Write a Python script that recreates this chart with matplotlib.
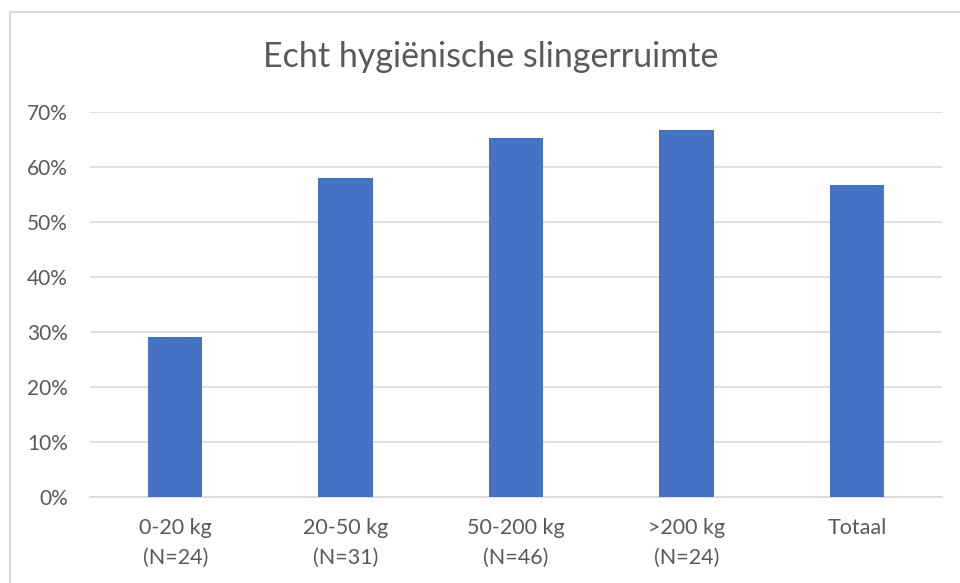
import matplotlib
matplotlib.use("Agg")
import matplotlib.pyplot as plt
from matplotlib.lines import Line2D

categories = ["0-20 kg\n(N=24)", "20-50 kg\n(N=31)", "50-200 kg\n(N=46)", ">200 kg\n(N=24)", "Totaal"]
values = [0.2917, 0.5806, 0.6522, 0.6667, 0.568]
yticks = [0, 0.1, 0.2, 0.3, 0.4, 0.5, 0.6, 0.7]
ytick_labels = ["0%", "10%", "20%", "30%", "40%", "50%", "60%", "70%"]
title = "Echt hygiënische slingerruimte"

plt.rcParams['font.family'] = ['Lato', 'DejaVu Sans']
text_color = "#595959"
grid_color = "#D9D9D9"

fig = plt.figure(figsize=(9.6, 5.83), dpi=100)
W, H = 960, 583
ax = fig.add_axes([90 / W, (H - 497) / H, (942 - 90) / W, (497 - 112) / H])

x = list(range(len(categories)))
ax.bar(x, values, width=0.32, color="#4472C4", zorder=3)
ax.set_xlim(-0.5, len(categories) - 0.5)
ax.set_ylim(0, 0.7)
ax.set_yticks(yticks)
ax.set_yticklabels(ytick_labels)
ax.set_xticks(x)
ax.set_xticklabels(categories, linespacing=1.65)
ax.yaxis.grid(True, color=grid_color, linewidth=1.2, zorder=0)
for s in ["top", "right", "left"]:
    ax.spines[s].set_visible(False)
ax.spines["bottom"].set_color(grid_color)
ax.spines["bottom"].set_linewidth(1.2)
ax.tick_params(axis="both", length=0, colors=text_color)
ax.tick_params(axis="y", pad=16, labelsize=15)
ax.tick_params(axis="x", pad=15, labelsize=15.5)

fig.text(491 / W, 1 - 57 / H, title, ha="center", va="center", fontsize=24.5, color=text_color)

# chart border (top and left)
fig.add_artist(Line2D([9.5 / W, 9.5 / W], [0, 1 - 11.5 / H], transform=fig.transFigure, color=grid_color, linewidth=1.5))
fig.add_artist(Line2D([9.5 / W, 1], [1 - 11.5 / H, 1 - 11.5 / H], transform=fig.transFigure, color=grid_color, linewidth=1.5))

fig.savefig("out.png", dpi=100, facecolor="white")
